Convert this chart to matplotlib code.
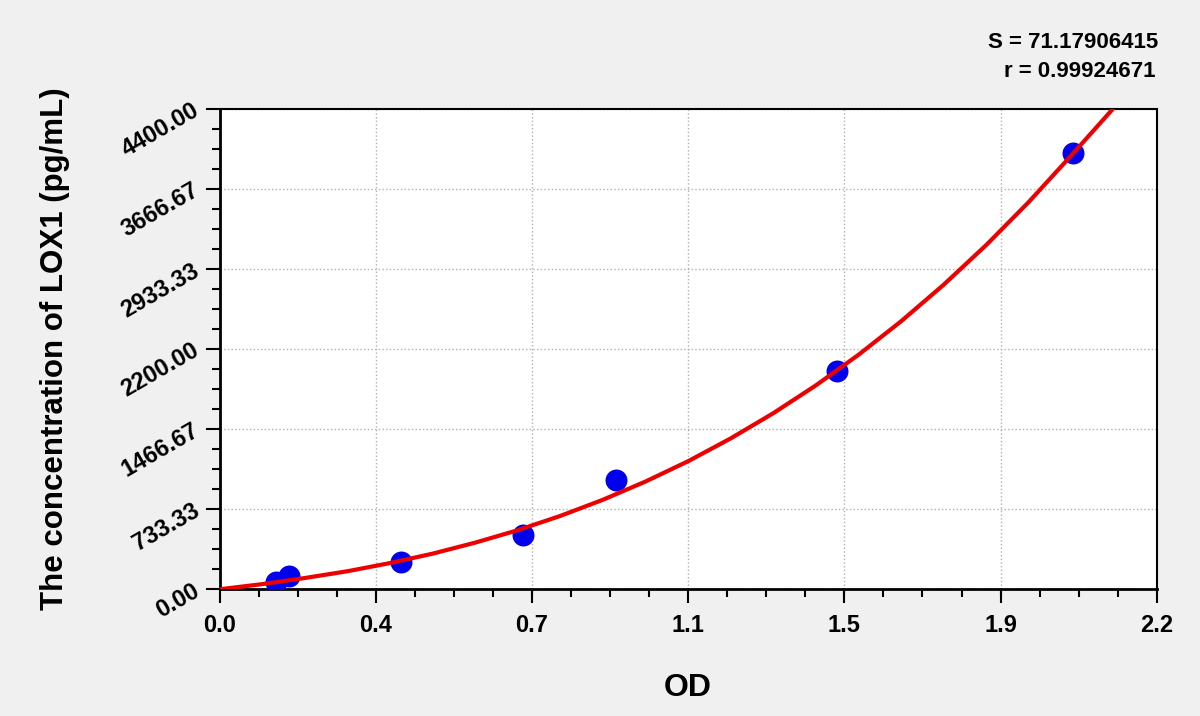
import numpy as np
import matplotlib.pyplot as plt
from matplotlib.ticker import MultipleLocator, FixedLocator

plt.rcParams['font.family'] = ['Liberation Sans', 'DejaVu Sans']

# standards (OD, concentration pg/mL)
od = [0.133, 0.163, 0.425, 0.713, 0.931, 1.449, 2.004]
conc = [62.5, 125, 250, 500, 1000, 2000, 4000]

# fitted curve
curve_od = [0.0, 0.1, 0.2, 0.3, 0.4, 0.5, 0.6, 0.7, 0.8, 0.9, 1.0, 1.1, 1.2,
            1.3, 1.4, 1.5, 1.6, 1.7, 1.8, 1.9, 2.0, 2.097]
curve_conc = [0, 47, 103, 165, 240, 326, 427, 541, 672, 820, 987, 1173, 1382,
              1613, 1868, 2148, 2455, 2790, 3154, 3549, 3976, 4400]

x_ticks = [0.0, 0.3667, 0.7333, 1.1, 1.4667, 1.8333, 2.2]
x_labels = ['0.0', '0.4', '0.7', '1.1', '1.5', '1.9', '2.2']
y_ticks = [0, 733.33, 1466.67, 2200, 2933.33, 3666.67, 4400]
y_labels = ['0.00', '733.33', '1466.67', '2200.00', '2933.33', '3666.67', '4400.00']

fig = plt.figure(figsize=(12, 7.16), dpi=100, facecolor='#f0f0f0')
ax = fig.add_axes([0.183, 0.177, 0.781, 0.671])
ax.set_facecolor('white')

ax.scatter(od, conc, s=250, color='#0000ee', zorder=3, linewidths=0)
ax.plot(curve_od, curve_conc, color='#ee0000', lw=3, zorder=4, solid_capstyle='round')

ax.set_xlim(0, 2.2)
ax.set_ylim(0, 4400)
ax.xaxis.set_major_locator(FixedLocator(x_ticks))
ax.yaxis.set_major_locator(FixedLocator(y_ticks))
ax.xaxis.set_minor_locator(MultipleLocator(2.2 / 24))
ax.yaxis.set_minor_locator(MultipleLocator(4400 / 24))
ax.set_xticklabels(x_labels, fontsize=17, fontweight='bold')
ax.set_yticklabels(y_labels, fontsize=17, fontweight='bold', rotation=30,
                   ha='right', va='center', rotation_mode='anchor')

ax.tick_params(which='major', direction='out', length=10, width=1.5, color='black', pad=6)
ax.tick_params(which='minor', direction='out', length=6, width=1.5, color='black')
ax.tick_params(axis='x', which='major', pad=8)

ax.grid(True, which='major', linestyle=':', color='#b0b0b0', lw=1)
for side in ['left', 'bottom']:
    ax.spines[side].set_linewidth(2)
for side in ['top', 'right']:
    ax.spines[side].set_linewidth(1.5)

ax.set_xlabel('OD', fontsize=23, fontweight='bold', labelpad=26)
ax.set_ylabel('The concentration of LOX1 (pg/mL)', fontsize=22.5, fontweight='bold', labelpad=34)

fig.text(0.965, 0.94, 'S = 71.17906415', ha='right', va='center', fontsize=16, fontweight='bold')
fig.text(0.963, 0.9, 'r = 0.99924671', ha='right', va='center', fontsize=16, fontweight='bold')

fig.savefig('out.png', dpi=100, facecolor=fig.get_facecolor())
